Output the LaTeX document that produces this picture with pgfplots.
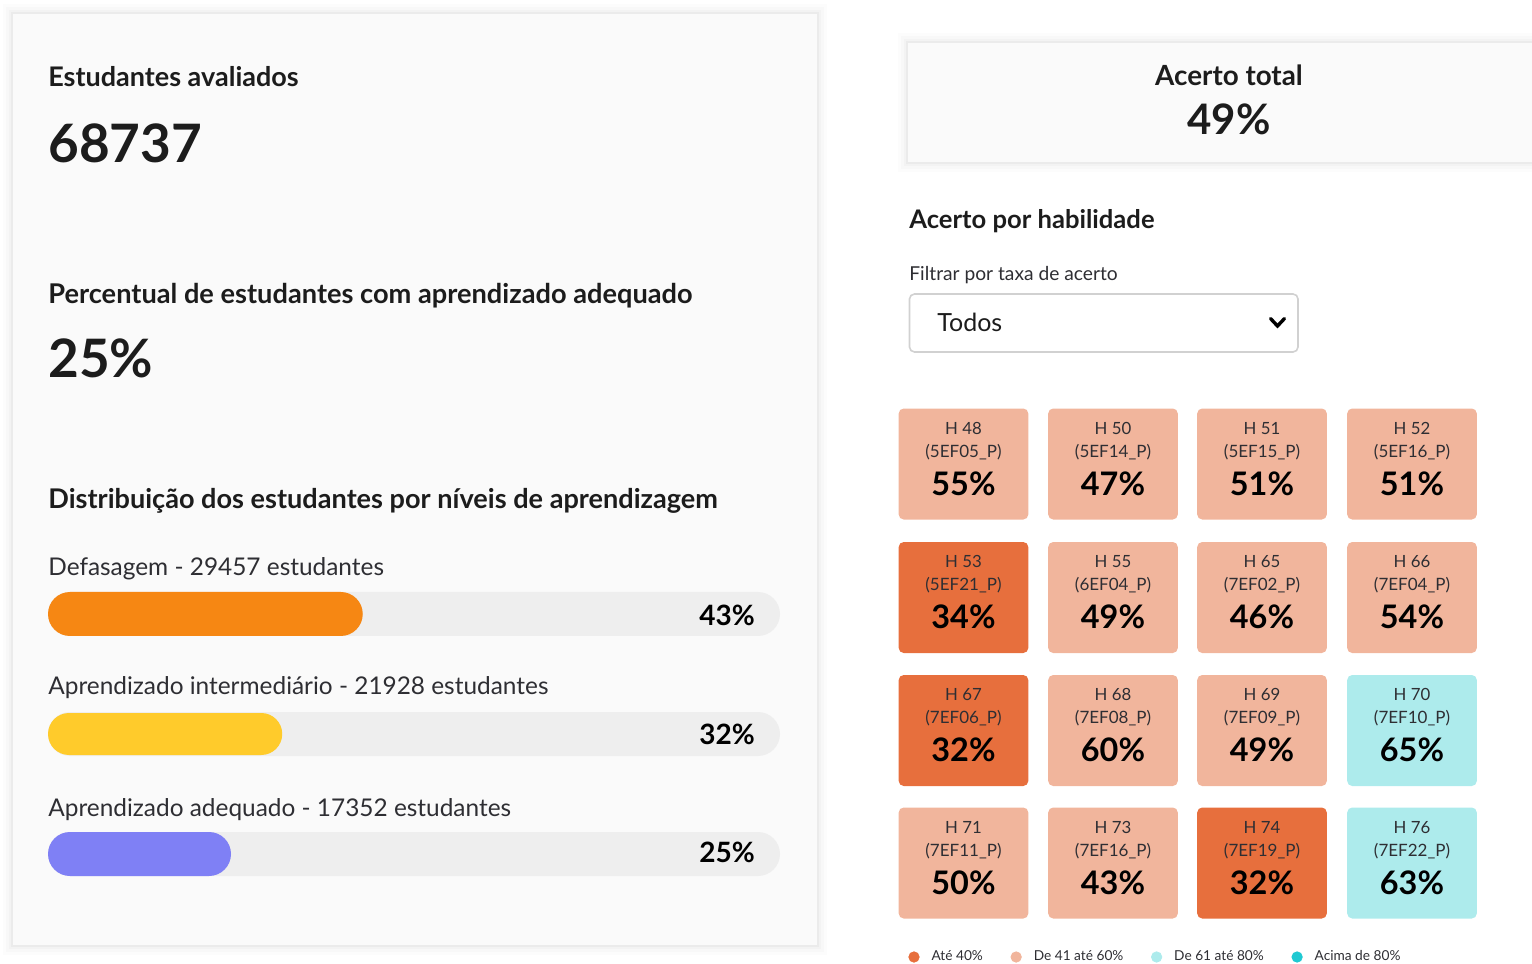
\documentclass[border=0pt]{standalone}
\usepackage{pgfplots}
\pgfplotsset{compat=1.18}
\usepackage{pgfplotstable}
\usepackage{fontspec}
\setmainfont{Lato}
\definecolor{cardbg}{HTML}{FAFAFA}
\definecolor{txt}{HTML}{1C1C1C}
\definecolor{txtsoft}{HTML}{2E2E33}
\definecolor{track}{HTML}{EEEEEE}
\definecolor{barOrange}{HTML}{F68713}
\definecolor{barYellow}{HTML}{FFCB2B}
\definecolor{barBlue}{HTML}{7F80F5}
\definecolor{tileDark}{HTML}{E76F3D}
\definecolor{tileLight}{HTML}{F1B59C}
\definecolor{tileCyan}{HTML}{ADEBEC}
\definecolor{legCyan}{HTML}{1FC9D2}

% k: 1 = ate 40%, 2 = de 41 ate 60%, 3 = de 61 ate 80%
\pgfplotstableread{
x y h c p k
963.5 464 48 5EF05 55 2
1113 464 50 5EF14 47 2
1262 464 51 5EF15 51 2
1412 464 52 5EF16 51 2
963.5 597.5 53 5EF21 34 1
1113 597.5 55 6EF04 49 2
1262 597.5 65 7EF02 46 2
1412 597.5 66 7EF04 54 2
963.5 730.5 67 7EF06 32 1
1113 730.5 68 7EF08 60 2
1262 730.5 69 7EF09 49 2
1412 730.5 70 7EF10 65 3
963.5 863 71 7EF11 50 2
1113 863 73 7EF16 43 2
1262 863 74 7EF19 32 1
1412 863 76 7EF22 63 3
}\tiles

\pgfplotsset{tilefill/.style 2 args={only marks, mark=none, forget plot, point meta=y,
  unbounded coords=discard,
  x filter/.expression={\thisrow{k}==#2 ? x : nan},
  nodes near coords={\phantom{x}},
  every node near coord/.style={anchor=center, fill=#1, rounded corners=2.5pt,
    minimum width=64.8pt, minimum height=55.5pt, inner sep=0pt, draw=none}}}

\begin{document}
\begin{tikzpicture}
\begin{axis}[
  at={(0pt,0pt)}, anchor=south west,
  width=766pt, height=482pt, scale only axis,
  xmin=0, xmax=1532, ymin=0, ymax=964, y dir=reverse,
  hide axis, clip=false,
  legend columns=4,
  legend style={at={(axis cs:908,957)}, anchor=west, draw=none, fill=none,
    font=\fontsize{6.85}{7.5}\selectfont\color{txtsoft},
    inner sep=0pt,
    nodes={inner sep=0pt},
    /tikz/every odd column/.append style={column sep=6pt},
    /tikz/every even column/.append style={column sep=13.8pt},
    cells={anchor=west}},
]
% ---- shadows and cards ----
\fill[black, opacity=0.012] (axis cs:3,4) rectangle (axis cs:827,955);
\fill[black, opacity=0.015] (axis cs:6,7) rectangle (axis cs:824,952);
\fill[black, opacity=0.02] (axis cs:9,10) rectangle (axis cs:821,949);
\fill[black, opacity=0.03] (axis cs:11,12) rectangle (axis cs:819,947);
\fill[cardbg] (axis cs:13,14) rectangle (axis cs:817,945);
\fill[black, opacity=0.012] (axis cs:898,33) rectangle (axis cs:1532,172);
\fill[black, opacity=0.015] (axis cs:901,36) rectangle (axis cs:1532,169);
\fill[black, opacity=0.02] (axis cs:904,39) rectangle (axis cs:1532,166);
\fill[black, opacity=0.03] (axis cs:906,41) rectangle (axis cs:1532,164);
\fill[cardbg] (axis cs:908,43) rectangle (axis cs:1532,162);
% ---- left texts ----
\node[anchor=base west, inner sep=0pt, text=txt, font=\fontsize{13.5}{15}\selectfont\bfseries] at (axis cs:48,86) {Estudantes avaliados};
\node[anchor=base west, inner sep=0pt, text=txt, font=\fontsize{26.5}{30}\selectfont\bfseries] at (axis cs:48,162) {68737};
\node[anchor=base west, inner sep=0pt, text=txt, font=\fontsize{13.6}{15}\selectfont\bfseries] at (axis cs:48,303) {Percentual de estudantes com aprendizado adequado};
\node[anchor=base west, inner sep=0pt, text=txt, font=\fontsize{26.5}{30}\selectfont\bfseries] at (axis cs:48,377) {25\%};
\node[anchor=base west, inner sep=0pt, text=txt, font=\fontsize{13.55}{15}\selectfont\bfseries] at (axis cs:48,508) {Distribuição dos estudantes por níveis de aprendizagem};
\node[anchor=base west, inner sep=0pt, text=txtsoft, font=\fontsize{12.2}{14}\selectfont] at (axis cs:48,575) {Defasagem - 29457 estudantes};
\node[anchor=base west, inner sep=0pt, text=txtsoft, font=\fontsize{12.2}{14}\selectfont] at (axis cs:48,694.5) {Aprendizado intermediário - 21928 estudantes};
\node[anchor=base west, inner sep=0pt, text=txtsoft, font=\fontsize{12.2}{14}\selectfont] at (axis cs:48,816) {Aprendizado adequado - 17352 estudantes};
% ---- right texts ----
\node[anchor=base, inner sep=0pt, text=txt, font=\fontsize{13.9}{16}\selectfont\bfseries] at (axis cs:1229,85) {Acerto total};
\node[anchor=base, inner sep=0pt, text=txt, font=\fontsize{21}{24}\selectfont\bfseries] at (axis cs:1229,134.5) {49\%};
\node[anchor=base west, inner sep=0pt, text=txt, font=\fontsize{12.8}{14}\selectfont\bfseries] at (axis cs:909,228) {Acerto por habilidade};
\node[anchor=base west, inner sep=0pt, text=txtsoft, font=\fontsize{9.6}{11}\selectfont] at (axis cs:909,280.5) {Filtrar por taxa de acerto};
\draw[draw=black!18, fill=white, rounded corners=2.5pt, line width=0.8pt] (axis cs:909.5,294) rectangle (axis cs:1298,352);
\node[anchor=base west, inner sep=0pt, text=txt, font=\fontsize{12.5}{14}\selectfont] at (axis cs:937,331.5) {Todos};
\draw[line width=1.7pt, black, line cap=round, line join=miter] (axis cs:1270.5,318.5) -- (axis cs:1277.5,326) -- (axis cs:1284.5,318.5);
% ---- tiles ----
\addplot[tilefill={tileLight}{2}] table[x=x,y=y] {\tiles};
\addplot[tilefill={tileDark}{1}] table[x=x,y=y] {\tiles};
\addplot[tilefill={tileCyan}{3}] table[x=x,y=y] {\tiles};
\addplot[only marks, mark=none, forget plot, point meta=explicit symbolic,
  nodes near coords={H \pgfplotspointmeta},
  every node near coord/.style={anchor=base, inner sep=0pt, yshift=15pt, text=txtsoft,
    font=\fontsize{8.4}{9}\selectfont}
] table[x=x,y=y,meta=h] {\tiles};
\addplot[only marks, mark=none, forget plot, point meta=explicit symbolic,
  nodes near coords={(\pgfplotspointmeta\_P)},
  every node near coord/.style={anchor=base, inner sep=0pt, yshift=3.4pt, text=txtsoft,
    font=\fontsize{8.5}{9}\selectfont}
] table[x=x,y=y,meta=c] {\tiles};
\addplot[only marks, mark=none, forget plot, point meta=explicit symbolic,
  nodes near coords={\pgfplotspointmeta\%},
  every node near coord/.style={anchor=base, inner sep=0pt, yshift=-15.5pt, text=black,
    font=\fontsize{16.2}{18}\selectfont\bfseries}
] table[x=x,y=y,meta=p] {\tiles};
% ---- legend ----
\addlegendimage{legend image code/.code={\fill[tileDark] (2.6pt,0pt) circle (2.6pt);}}
\addlegendentry{Até 40\%}
\addlegendimage{legend image code/.code={\fill[tileLight] (2.6pt,0pt) circle (2.6pt);}}
\addlegendentry{De 41 até 60\%}
\addlegendimage{legend image code/.code={\fill[tileCyan] (2.6pt,0pt) circle (2.6pt);}}
\addlegendentry{De 61 até 80\%}
\addlegendimage{legend image code/.code={\fill[legCyan] (2.6pt,0pt) circle (2.6pt);}}
\addlegendentry{Acima de 80\%}
\end{axis}
% ---- distribution bars ----
\begin{axis}[
  at={(24pt,35pt)}, anchor=south west,
  width=366pt, height=160pt, scale only axis,
  xmin=0, xmax=100, ymin=574, ymax=894, y dir=reverse,
  hide axis, clip=false,
]
\addplot[xbar, bar width=22pt, bar shift=0pt, fill=track, draw=none, rounded corners=11pt] coordinates {(100,614) (100,734) (100,854)};
\addplot[xbar, bar width=22pt, bar shift=0pt, fill=barOrange, draw=none, rounded corners=11pt] coordinates {(43,614)};
\addplot[xbar, bar width=21pt, bar shift=0pt, fill=barYellow, draw=none, rounded corners=10.5pt] coordinates {(32,734)};
\addplot[xbar, bar width=22pt, bar shift=0pt, fill=barBlue, draw=none, rounded corners=11pt] coordinates {(25,854)};
\node[anchor=base east, inner sep=0pt, text=black, font=\fontsize{14}{16}\selectfont\bfseries] at (axis cs:96.6,626) {43\%};
\node[anchor=base east, inner sep=0pt, text=black, font=\fontsize{14}{16}\selectfont\bfseries] at (axis cs:96.6,744) {32\%};
\node[anchor=base east, inner sep=0pt, text=black, font=\fontsize{14}{16}\selectfont\bfseries] at (axis cs:96.6,862.5) {25\%};
\end{axis}
\pgfresetboundingbox
\useasboundingbox (0pt,0pt) rectangle (766pt,482pt);
\end{tikzpicture}
\end{document}
